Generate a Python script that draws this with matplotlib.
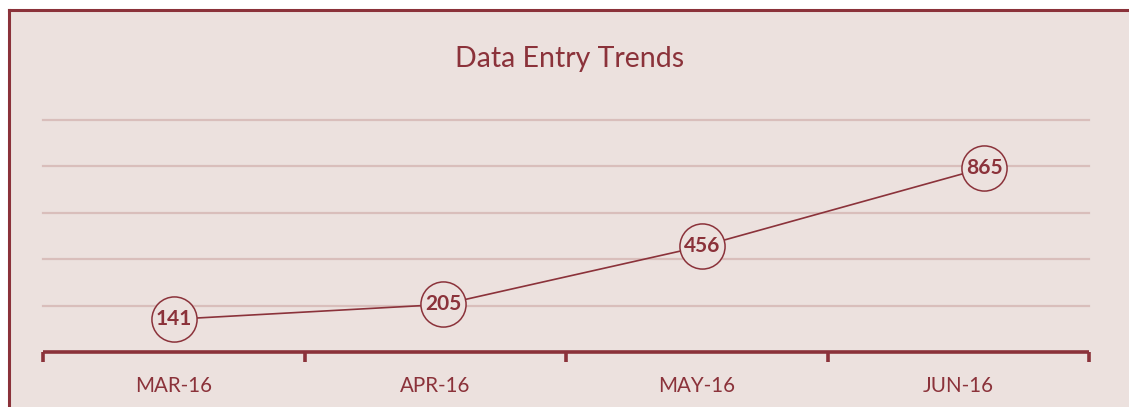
import matplotlib
matplotlib.use("Agg")
import matplotlib.pyplot as plt
from matplotlib.patches import Rectangle

# ---- data ----
categories = ["MAR-16", "APR-16", "MAY-16", "JUN-16"]
entry_labels = [141, 205, 456, 865]          # labels shown in the circles
plotted_height = [141, 205, 456, 794]        # height of each point
point_position = [0.50, 1.53, 2.52, 3.60]    # horizontal position (in category units)
grid_values = [200, 400, 600, 800, 1000]

BG = "#ECE1DE"
RED = "#8B323A"
GRID = "#D9BEBB"
FONT = ["Lato", "DejaVu Sans"]

W, H = 1129, 407
fig = plt.figure(figsize=(W / 100, H / 100), dpi=100)
fig.patch.set_facecolor("white")

# panel background + border (left and top edges visible)
fig.add_artist(Rectangle((8.5 / W, -0.1), 1.2, (H - 9.5) / H + 0.1,
                         transform=fig.transFigure, facecolor=BG,
                         edgecolor="none", zorder=0))
fig.add_artist(plt.Line2D([8.5 / W, 8.5 / W], [0, (H - 9.5) / H],
                          transform=fig.transFigure, color=RED, lw=2.2, zorder=1))
fig.add_artist(plt.Line2D([8.5 / W, 1.0], [(H - 9.5) / H, (H - 9.5) / H],
                          transform=fig.transFigure, color=RED, lw=2.2, zorder=1))

ax = fig.add_axes([43 / W, (H - 352) / H, (1089 - 43) / W, (352 - 120) / H])
ax.set_facecolor("none")
ax.set_xlim(0, len(categories))
ax.set_ylim(0, 1000)

for g in grid_values:
    ax.axhline(g, color=GRID, lw=1.6, zorder=1, clip_on=False)

for s in ["top", "right", "left"]:
    ax.spines[s].set_visible(False)
ax.spines["bottom"].set_color(RED)
ax.spines["bottom"].set_linewidth(2.6)
ax.spines["bottom"].set_capstyle("butt")
ax.set_yticks([])

ax.set_xticks(range(len(categories) + 1))
ax.set_xticklabels([])
ax.tick_params(axis="x", direction="out", length=7, width=2.6, color=RED)
ax.set_xticks([i + 0.5 for i in range(len(categories))], minor=True)
ax.set_xticklabels(categories, minor=True, fontsize=14.8, color=RED, family=FONT)
ax.tick_params(axis="x", which="minor", length=0, pad=17)

ax.plot(point_position, plotted_height, color=RED, lw=1.2, zorder=3)
ax.plot(point_position, plotted_height, linestyle="none", marker="o", markersize=32.5,
        markerfacecolor=BG, markeredgecolor=RED, markeredgewidth=1.1, zorder=4)
for x, y, lab in zip(point_position, plotted_height, entry_labels):
    ax.text(x, y, str(lab), ha="center", va="center", fontsize=15, fontweight="bold",
            color=RED, family=FONT, zorder=5)

fig.text(570 / W, 1 - 59 / H, "Data Entry Trends", ha="center", va="center",
         fontsize=20.5, color=RED, family=FONT)

fig.savefig("out.png", dpi=100, facecolor=fig.get_facecolor())
